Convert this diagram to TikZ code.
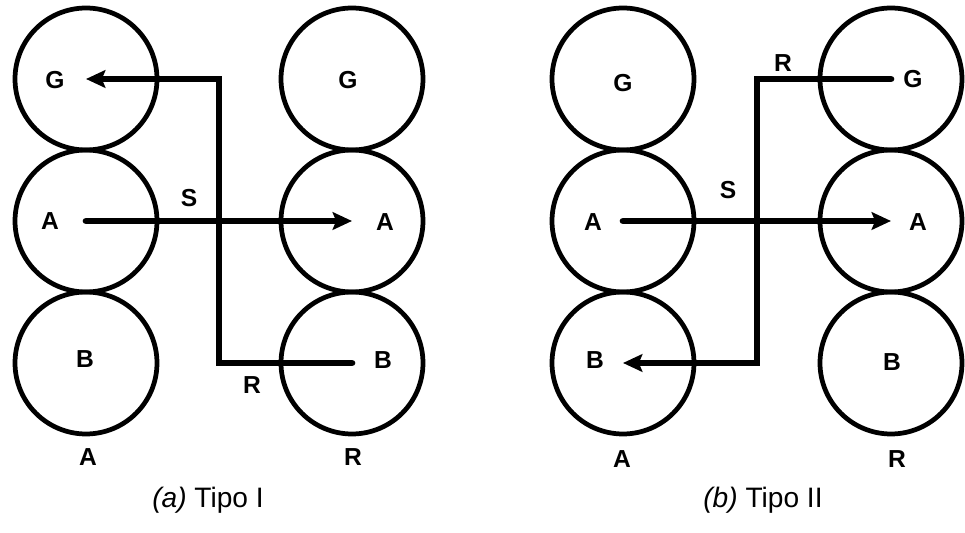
\documentclass[tikz,border=0pt]{standalone}
\usepackage{fontspec}
\setmainfont{Liberation Sans}
\usetikzlibrary{arrows.meta,calc}

\begin{document}
\begin{tikzpicture}[x=0.02cm, y=-0.02cm,
    roll/.style={circle, draw, line width=2.7pt, minimum size=2.84cm, inner sep=0pt},
    lbl/.style={font=\fontsize{14}{16}\selectfont\bfseries, inner sep=1pt},
    capt/.style={font=\fontsize{16}{18}\selectfont},
    flow/.style={line width=3.8pt, line cap=round, -{Stealth[length=11pt, width=10pt, inset=2pt]}}
]
    \useasboundingbox (0,0) rectangle (965,533);

    % (a) Tipo I
    \node[roll] (aGl) at (86,79) {};
    \node[roll] (aAl) at (86,221) {};
    \node[roll] (aBl) at (86,363) {};
    \node[roll] (aGr) at (352,79) {};
    \node[roll] (aAr) at (352,221) {};
    \node[roll] (aBr) at (352,363) {};
    \coordinate (amid) at ($(aAl)!0.5!(aAr)$);

    \draw[flow] (aAl.center) -- (aAr.center);
    \draw[flow] (aBr.center) -| (amid) |- (aGl.center);

    \node[lbl] (aGlt) at (55,80) {G};
    \node[lbl] (aAlt) at (50,221) {A};
    \node[lbl] (aBlt) at (85,359) {B};
    \node[lbl] (aGrt) at (348,80) {G};
    \node[lbl] (aArt) at (385,222) {A};
    \node[lbl] (aBrt) at (383,360) {B};
    \node[lbl] (aS) at (189,198) {S};
    \node[lbl] (aR) at (252,385) {R};
    \node[lbl] (aAb) at (88,457) {A};
    \node[lbl] (aRb) at (353,457) {R};
    \node[capt] (acap) at (208,500) {\textit{(a)} Tipo I};

    % (b) Tipo II
    \node[roll] (bGl) at (623,79) {};
    \node[roll] (bAl) at (623,221) {};
    \node[roll] (bBl) at (623,363) {};
    \node[roll] (bGr) at (891,79) {};
    \node[roll] (bAr) at (891,221) {};
    \node[roll] (bBr) at (891,363) {};
    \coordinate (bmid) at ($(bAl)!0.5!(bAr)$);

    \draw[flow] (bAl.center) -- (bAr.center);
    \draw[flow] (bGr.center) -| (bmid) |- (bBl.center);

    \node[lbl] (bGlt) at (623,83) {G};
    \node[lbl] (bAlt) at (593,222) {A};
    \node[lbl] (bBlt) at (595,360) {B};
    \node[lbl] (bGrt) at (913,79) {G};
    \node[lbl] (bArt) at (918,222) {A};
    \node[lbl] (bBrt) at (892,362) {B};
    \node[lbl] (bS) at (728,190) {S};
    \node[lbl] (bR) at (783,63) {R};
    \node[lbl] (bAb) at (622,459) {A};
    \node[lbl] (bRb) at (897,459) {R};
    \node[capt] (bcap) at (763,500) {\textit{(b)} Tipo II};
\end{tikzpicture}
\end{document}
